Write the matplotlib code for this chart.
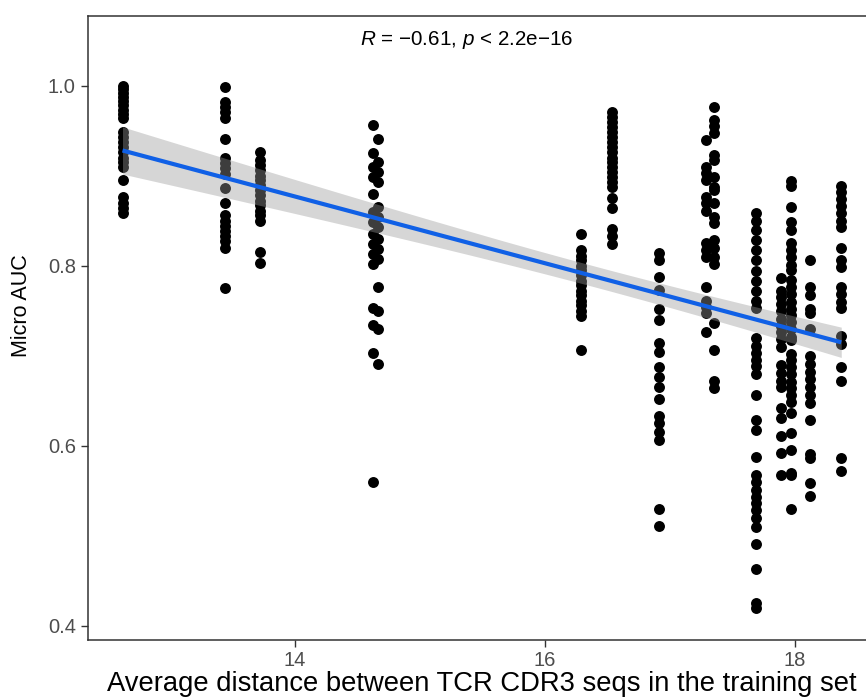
import numpy as np
import matplotlib
matplotlib.use("Agg")
import matplotlib.pyplot as plt

plt.rcParams['font.family'] = ['Liberation Sans', 'DejaVu Sans']
plt.rcParams['mathtext.fontset'] = 'custom'
plt.rcParams['mathtext.rm'] = 'Liberation Sans'
plt.rcParams['mathtext.it'] = 'Liberation Sans:italic'

# ---- data: (x position of each training set, Micro AUC values) ----
x_c1 = 12.62
auc_c1 = [1.0, 0.996, 0.992, 0.987, 0.983, 0.978, 0.973, 0.968, 0.964, 0.948, 0.943,
          0.937, 0.932, 0.926, 0.920, 0.915, 0.910, 0.895, 0.876, 0.869, 0.864, 0.858]
x_c2 = 13.44
auc_c2 = [0.998, 0.982, 0.976, 0.971, 0.964, 0.941, 0.919, 0.914, 0.908, 0.902, 0.886,
          0.869, 0.856, 0.849, 0.844, 0.838, 0.833, 0.827, 0.820, 0.775]
x_c3 = 13.72
auc_c3 = [0.926, 0.917, 0.912, 0.906, 0.900, 0.895, 0.889, 0.884, 0.878, 0.872, 0.867,
          0.861, 0.856, 0.850, 0.815, 0.803]
x_c4a = 14.62
auc_c4a = [0.956, 0.925, 0.909, 0.898, 0.880, 0.859, 0.848, 0.835, 0.824, 0.813, 0.802,
           0.753, 0.734, 0.703, 0.560]
x_c4b = 14.66
auc_c4b = [0.941, 0.915, 0.904, 0.893, 0.865, 0.854, 0.843, 0.829, 0.818, 0.807, 0.776,
           0.749, 0.730, 0.691]
x_c5 = 16.29
auc_c5 = [0.835, 0.817, 0.811, 0.806, 0.800, 0.795, 0.789, 0.783, 0.778, 0.772, 0.767,
          0.761, 0.756, 0.750, 0.744, 0.706]
x_c6 = 16.54
auc_c6 = [0.971, 0.965, 0.959, 0.954, 0.948, 0.943, 0.937, 0.932, 0.926, 0.920, 0.915,
          0.909, 0.904, 0.898, 0.893, 0.887, 0.875, 0.864, 0.841, 0.833, 0.824]
x_c7 = 16.91
auc_c7 = [0.814, 0.806, 0.787, 0.773, 0.752, 0.739, 0.714, 0.704, 0.687, 0.676, 0.665,
          0.652, 0.633, 0.625, 0.615, 0.606, 0.530, 0.511]
x_c8a = 17.29
auc_c8a = [0.939, 0.909, 0.903, 0.895, 0.876, 0.869, 0.861, 0.825, 0.817, 0.809, 0.776,
           0.761, 0.754, 0.747, 0.726]
x_c8b = 17.35
auc_c8b = [0.976, 0.962, 0.955, 0.947, 0.923, 0.917, 0.898, 0.887, 0.884, 0.869, 0.854,
           0.847, 0.828, 0.819, 0.810, 0.802, 0.736, 0.706, 0.672, 0.664]
x_c9 = 17.69
auc_c9 = [0.858, 0.850, 0.839, 0.828, 0.817, 0.806, 0.794, 0.783, 0.772, 0.761, 0.753,
          0.719, 0.711, 0.703, 0.695, 0.688, 0.680, 0.656, 0.628, 0.617, 0.587, 0.567,
          0.559, 0.551, 0.543, 0.536, 0.528, 0.520, 0.509, 0.491, 0.463, 0.425, 0.420]
x_c10a = 17.89
auc_c10a = [0.786, 0.772, 0.765, 0.757, 0.749, 0.741, 0.733, 0.726, 0.718, 0.709, 0.689,
            0.681, 0.672, 0.665, 0.642, 0.631, 0.611, 0.592, 0.567]
x_c10b = 17.97
auc_c10b = [0.894, 0.888, 0.865, 0.848, 0.839, 0.825, 0.817, 0.809, 0.801, 0.795, 0.784,
            0.776, 0.768, 0.760, 0.752, 0.745, 0.737, 0.729, 0.721, 0.717, 0.702, 0.695,
            0.687, 0.679, 0.671, 0.664, 0.656, 0.648, 0.636, 0.614, 0.595, 0.570, 0.567, 0.530]
x_c11 = 18.12
auc_c11 = [0.806, 0.776, 0.767, 0.752, 0.747, 0.730, 0.700, 0.691, 0.682, 0.674, 0.665,
           0.656, 0.647, 0.628, 0.591, 0.586, 0.558, 0.544]
x_c12 = 18.37
auc_c12 = [0.888, 0.882, 0.874, 0.866, 0.858, 0.850, 0.843, 0.820, 0.806, 0.798, 0.776,
           0.768, 0.760, 0.753, 0.722, 0.713, 0.687, 0.672, 0.586, 0.572]

stat_label = r"$R$ = −0.61, $p$ < 2.2e−16"
x_label = "Average distance between TCR CDR3 seqs in the training set"
y_label = "Micro AUC"
x_ticks = [14, 16, 18]
y_ticks = [0.4, 0.6, 0.8, 1.0]

groups = [(x_c1, auc_c1), (x_c2, auc_c2), (x_c3, auc_c3), (x_c4a, auc_c4a), (x_c4b, auc_c4b),
          (x_c5, auc_c5), (x_c6, auc_c6), (x_c7, auc_c7), (x_c8a, auc_c8a), (x_c8b, auc_c8b),
          (x_c9, auc_c9), (x_c10a, auc_c10a), (x_c10b, auc_c10b), (x_c11, auc_c11), (x_c12, auc_c12)]
xs = np.concatenate([np.full(len(v), g) for g, v in groups])
ys = np.concatenate([np.asarray(v, float) for g, v in groups])

# ---- figure ----
W, H = 866, 697
fig = plt.figure(figsize=(W / 100, H / 100), dpi=100)
left_px, right_px, top_px, bot_px = 88, 875, 16, 640
ax = fig.add_axes([left_px / W, (H - bot_px) / H, (right_px - left_px) / W, (bot_px - top_px) / H])

ax.scatter(xs, ys, s=62, color='black', linewidths=0, zorder=2)

# linear fit + 95% confidence band
n = len(xs)
slope, intercept = np.polyfit(xs, ys, 1)
resid = ys - (slope * xs + intercept)
s_err = np.sqrt(np.sum(resid ** 2) / (n - 2))
xbar = xs.mean()
sxx = np.sum((xs - xbar) ** 2)
xg = np.linspace(xs.min(), xs.max(), 200)
yg = slope * xg + intercept
se = s_err * np.sqrt(1.0 / n + (xg - xbar) ** 2 / sxx)
tq = 1.968
ax.fill_between(xg, yg - tq * se, yg + tq * se, color='#999999', alpha=0.4, linewidth=0, zorder=3)
ax.plot(xg, yg, color='#1060E6', linewidth=3.0, zorder=4, solid_capstyle='butt')

ax.text(14.52, 1.0506, stat_label, fontsize=14.9, ha='left', va='center', color='black')

ax.set_xlim(12.344, 18.64)
ax.set_ylim(0.3839, 1.0773)
ax.set_xticks(x_ticks)
ax.set_xticklabels([str(t) for t in x_ticks])
ax.set_yticks(y_ticks)
ax.set_yticklabels([f"{t:.1f}" for t in y_ticks])

for sp in ax.spines.values():
    sp.set_color('#333333')
    sp.set_linewidth(1.1)
ax.tick_params(axis='both', length=4.8, width=1.0, color='#333333',
               labelsize=14.5, labelcolor='#4D4D4D')
ax.tick_params(axis='x', pad=3)
ax.tick_params(axis='y', pad=4)

ax.set_xlabel(x_label, fontsize=19.7, color='black')
ax.xaxis.label.set_va('baseline')
ax.xaxis.set_label_coords(0.5, (640 - 691) / 624)
ax.set_ylabel(y_label, fontsize=15.5, color='black')
ax.yaxis.label.set_va('center')
ax.yaxis.set_label_coords((22 - 88) / 787, (640 - 306) / 624)

fig.savefig("out.png", dpi=100)
